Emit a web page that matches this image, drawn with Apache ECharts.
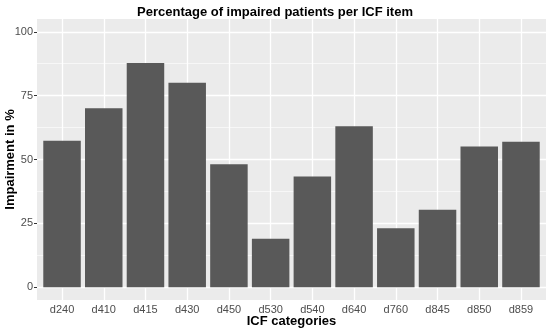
<!DOCTYPE html>
<html>
<head>
<meta charset="utf-8">
<script src="https://cdn.jsdelivr.net/npm/echarts@6/dist/echarts.min.js"></script>
<style>html,body{margin:0;padding:0;background:#fff}#c{width:550px;height:331px}</style>
</head>
<body>
<div id="c"></div>
<script>
var categories = ['d240','d410','d415','d430','d450','d530','d540','d640','d760','d845','d850','d859'];
var values = [57.3, 70.1, 87.8, 80.0, 48.1, 19.0, 43.3, 63.0, 23.1, 30.3, 55.1, 56.9];
var yTicks = [0, 25, 50, 75, 100];
var yMinor = [12.5, 37.5, 62.5, 87.5];

var positions = categories.map(function(c, i){ return i + 1; });
var barData = values.map(function(v, i){ return [i + 1, v]; });

var FONT = 'Liberation Sans, Arial, sans-serif';
var grid = [];
yTicks.forEach(function(v){ grid.push({yAxis: v, lineStyle: {color: '#fff', width: 1.3, type: 'solid'}}); });
yMinor.forEach(function(v){ grid.push({yAxis: v, lineStyle: {color: '#fff', width: 0.6, type: 'solid'}}); });
positions.forEach(function(v){ grid.push({xAxis: v, lineStyle: {color: '#fff', width: 1.3, type: 'solid'}}); });

var chart = echarts.init(document.getElementById('c'), null, {renderer: 'canvas'});
chart.setOption({
  animation: false,
  backgroundColor: '#fff',
  textStyle: {fontFamily: FONT},
  title: {
    text: 'Percentage of impaired patients per ICF item',
    left: 'center', top: 1,
    textStyle: {fontSize: 13, fontWeight: 'bold', color: '#000', fontFamily: FONT}
  },
  grid: {left: 37, right: 4, top: 19, bottom: 31, show: true, backgroundColor: '#EBEBEB', borderWidth: 0,
    containLabel: false, outerBoundsMode: 'none'},
  xAxis: {
    type: 'value', min: 0.4, max: 12.6,
    name: 'ICF categories', nameLocation: 'middle', nameGap: 15, nameMoveOverlap: false,
    nameTextStyle: {fontSize: 13, fontWeight: 'bold', color: '#000', fontFamily: FONT},
    axisLine: {show: false},
    axisTick: {show: true, customValues: positions, length: 3, lineStyle: {color: '#333', width: 1}},
    axisLabel: {show: true, customValues: positions, color: '#4d4d4d', fontSize: 11, margin: 4,
      formatter: function(v){ return categories[Math.round(v) - 1]; }},
    splitLine: {show: false}
  },
  yAxis: {
    type: 'value', min: -5, max: 105,
    name: 'Impairment in %', nameLocation: 'middle', nameGap: 20, nameRotate: 90, nameMoveOverlap: false,
    nameTextStyle: {fontSize: 13, fontWeight: 'bold', color: '#000', fontFamily: FONT},
    axisLine: {show: false},
    axisTick: {show: true, customValues: yTicks, length: 3, lineStyle: {color: '#333', width: 1}},
    axisLabel: {show: true, customValues: yTicks, color: '#4d4d4d', fontSize: 11, margin: 4},
    splitLine: {show: false}
  },
  series: [
    {
      type: 'scatter', data: [], z: 1, silent: true,
      markLine: {z: 1, silent: true, symbol: ['none', 'none'], label: {show: false}, animation: false, data: grid}
    },
    {
      type: 'bar', data: barData, barWidth: 37.5, z: 3,
      itemStyle: {color: '#595959'}
    }
  ]
});
</script>
</body>
</html>
